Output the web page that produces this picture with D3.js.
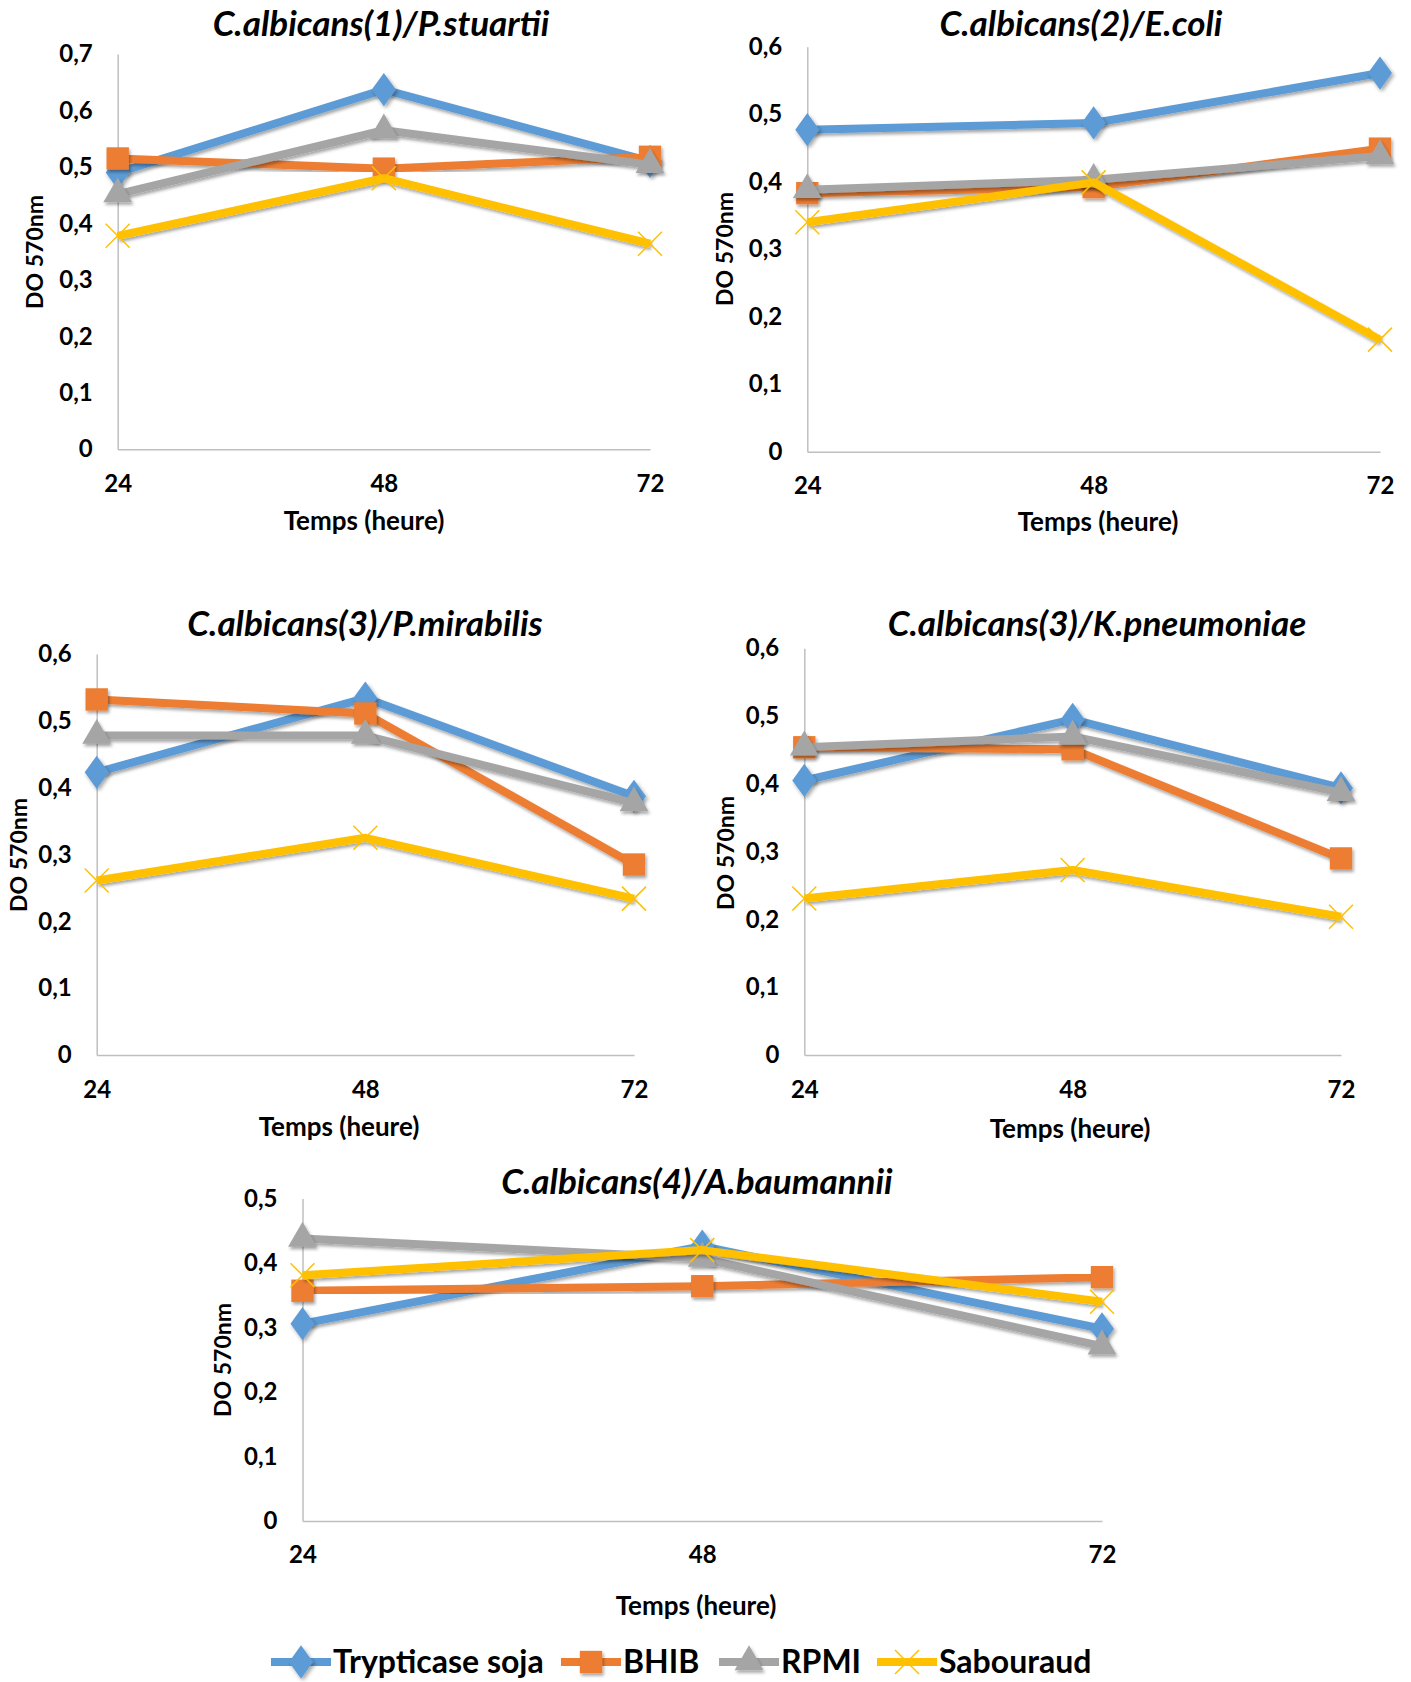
<!DOCTYPE html>
<html>
<head>
<meta charset="utf-8">
<script src="https://cdn.jsdelivr.net/npm/d3@7"></script>
<style>
  body { margin: 0; background: #fff; }
  text { font-family: Lato, "Open Sans", sans-serif; font-weight: bold; fill: #000; }
  .title { font-style: italic; font-size: 35px; }
  .tick text { font-size: 24px; }
  .axis-label { font-size: 26px; }
  .y-label { font-size: 23px; }
  .legend text { font-size: 32px; }
</style>
</head>
<body>
<svg id="chart" width="1411" height="1682"></svg>
<script>
// Données : DO à 570 nm selon le temps d'incubation
const HOURS = [24, 48, 72];
const SERIES = ["Trypticase soja", "BHIB", "RPMI", "Sabouraud"];
const COLORS = ["#5B9BD5", "#ED7D31", "#A5A5A5", "#FFC000"];
const SYMBOLS = ["diamond", "square", "triangle", "cross"];

const TITLES = [
  "C.albicans(1)/P.stuartii",
  "C.albicans(2)/E.coli",
  "C.albicans(3)/P.mirabilis",
  "C.albicans(3)/K.pneumoniae",
  "C.albicans(4)/A.baumannii"
];
const Y_MAX = [0.7, 0.6, 0.6, 0.6, 0.5];

// une ligne par milieu : Trypticase soja, BHIB, RPMI, Sabouraud
const P_STUARTII = [[0.49, 0.637, 0.51], [0.515, 0.497, 0.518], [0.452, 0.565, 0.504], [0.378, 0.48, 0.364]];
const E_COLI = [[0.477, 0.487, 0.561], [0.383, 0.392, 0.449], [0.388, 0.403, 0.438], [0.34, 0.399, 0.166]];
const P_MIRABILIS = [[0.423, 0.534, 0.387], [0.532, 0.511, 0.285], [0.478, 0.478, 0.377], [0.261, 0.325, 0.234]];
const K_PNEUMONIAE = [[0.405, 0.495, 0.394], [0.454, 0.451, 0.29], [0.454, 0.47, 0.387], [0.231, 0.273, 0.204]];
const A_BAUMANNII = [[0.306, 0.426, 0.298], [0.357, 0.364, 0.378], [0.438, 0.407, 0.271], [0.381, 0.42, 0.34]];
const VALUES = [P_STUARTII, E_COLI, P_MIRABILIS, K_PNEUMONIAE, A_BAUMANNII];

// Placement de chaque graphique dans la page
const LAYOUT = [
  { x0: 117.7, x1: 650, y0: 449.3, y1: 54, title: [381, 24], yLab: [35, 252], xLab: [364, 521], tickY: 484 },
  { x0: 807.3, x1: 1380, y0: 451.7, y1: 46.7, title: [1081, 24], yLab: [725, 249], xLab: [1098, 522], tickY: 486 },
  { x0: 96.7, x1: 634, y0: 1055, y1: 654, title: [365, 624], yLab: [19, 855], xLab: [339, 1127], tickY: 1090 },
  { x0: 804.3, x1: 1341, y0: 1055, y1: 648.3, title: [1097, 624], yLab: [726, 853], xLab: [1070, 1129], tickY: 1090 },
  { x0: 302.5, x1: 1102, y0: 1521, y1: 1198.5, title: [697, 1182], yLab: [223, 1360], xLab: [696, 1606], tickY: 1555 }
];

const SVG = d3.select("#chart");

// Ombre portée façon Excel
SVG.append("defs").append("filter")
  .attr("id", "shadow")
  .attr("x", "-20%").attr("y", "-20%").attr("width", "140%").attr("height", "140%")
  .append("feDropShadow")
  .attr("dx", 1.5).attr("dy", 2.5).attr("stdDeviation", 1.5)
  .attr("flood-color", "#000").attr("flood-opacity", 0.35);

const comma = d3.format(".1f");
const fmt = v => v === 0 ? "0" : comma(v).replace(".", ",");

function drawMarker(g, type, color, x, y) {
  if (type === "cross") {
    const s = 12;
    g.append("path")
      .attr("d", `M${x - s},${y - s}L${x + s},${y + s}M${x - s},${y + s}L${x + s},${y - s}`)
      .attr("stroke", color).attr("stroke-width", 1.5).attr("fill", "none");
    return;
  }
  const sym = { diamond: d3.symbolDiamond, square: d3.symbolSquare, triangle: d3.symbolTriangle }[type];
  const size = { diamond: 320, square: 500, triangle: 360 }[type];
  g.append("path")
    .attr("d", d3.symbol().type(sym).size(size)())
    .attr("transform", `translate(${x},${y})` + (type === "diamond" ? " scale(1.25,1)" : ""))
    .attr("fill", color)
    .attr("filter", "url(#shadow)");
}

LAYOUT.forEach((L, i) => {
  const x = d3.scaleLinear().domain([24, 72]).range([L.x0, L.x1]);
  const y = d3.scaleLinear().domain([0, Y_MAX[i]]).range([L.y0, L.y1]);
  const g = SVG.append("g");

  // Axe vertical
  const yAxis = g.append("g")
    .attr("transform", `translate(${L.x0},0)`)
    .call(d3.axisLeft(y).ticks(Math.round(Y_MAX[i] * 10)).tickFormat(fmt).tickSize(0).tickPadding(25));
  yAxis.select(".domain").attr("stroke", "#bfbfbf").attr("stroke-width", 1.5);
  yAxis.selectAll(".tick text").attr("fill", "#000");
  yAxis.attr("font-family", null).attr("font-size", null);

  // Axe horizontal
  const xAxis = g.append("g")
    .attr("transform", `translate(0,${L.y0})`)
    .call(d3.axisBottom(x).tickValues(HOURS).tickSize(0).tickPadding(0));
  xAxis.select(".domain").attr("stroke", "#bfbfbf").attr("stroke-width", 1.5);
  xAxis.attr("font-family", null).attr("font-size", null);
  xAxis.selectAll(".tick text")
    .attr("fill", "#000")
    .attr("y", L.tickY - L.y0)
    .attr("dy", "0.35em");

  // Titres
  g.append("text").attr("class", "title")
    .attr("x", L.title[0]).attr("y", L.title[1]).attr("dy", "0.35em")
    .attr("text-anchor", "middle").text(TITLES[i]);
  g.append("text").attr("class", "y-label")
    .attr("transform", `translate(${L.yLab[0]},${L.yLab[1]}) rotate(-90)`)
    .attr("dy", "0.35em").attr("text-anchor", "middle").text("DO 570nm");
  g.append("text").attr("class", "axis-label")
    .attr("x", L.xLab[0]).attr("y", L.xLab[1]).attr("dy", "0.35em")
    .attr("text-anchor", "middle").text("Temps (heure)");

  // Courbes
  const line = d3.line().x((d, k) => x(HOURS[k])).y(d => y(d));
  VALUES[i].forEach((vals, s) => {
    const sg = g.append("g");
    sg.append("path")
      .attr("d", line(vals))
      .attr("fill", "none")
      .attr("stroke", COLORS[s])
      .attr("stroke-width", 8)
      .attr("stroke-linejoin", "round")
      .attr("filter", "url(#shadow)");
    vals.forEach((v, k) => drawMarker(sg, SYMBOLS[s], COLORS[s], x(HOURS[k]), y(v)));
  });
});

// Légende
const LEGEND_X = [271, 561, 719, 877];
const legend = SVG.append("g").attr("class", "legend");
SERIES.forEach((name, s) => {
  const lx = LEGEND_X[s], ly = 1662;
  const lg = legend.append("g");
  lg.append("line")
    .attr("x1", lx).attr("x2", lx + 60).attr("y1", ly).attr("y2", ly)
    .attr("stroke", COLORS[s]).attr("stroke-width", 8);
  drawMarker(lg, SYMBOLS[s], COLORS[s], lx + 30, ly);
  lg.append("text")
    .attr("x", lx + 62).attr("y", ly).attr("dy", "0.35em")
    .text(name);
});
</script>
</body>
</html>
